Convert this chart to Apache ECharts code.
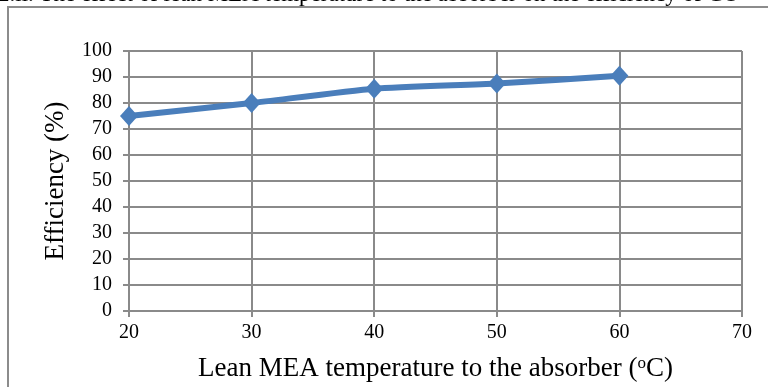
<!DOCTYPE html>
<html>
<head>
<meta charset="utf-8">
<script src="https://cdn.jsdelivr.net/npm/echarts@6/dist/echarts.min.js"></script>
<style>
  html, body { margin: 0; padding: 0; background: #fff; }
  #chart { width: 768px; height: 387px; }
</style>
</head>
<body>
<div id="chart"></div>
<script>
// lean MEA temperature (oC) vs efficiency (%)
var temps = [20, 30, 40, 50, 60];
var efficiency = [75, 80, 85.5, 87.5, 90.5];
var captionText = '2.ii. The effect of lean MEA temperature to the absorber on the efficiency of CO';

var chart = echarts.init(document.getElementById('chart'));
var points = temps.map(function (t, i) { return [t, efficiency[i]]; });

var serif = '"Liberation Serif", "Times New Roman", serif';
var gridColor = '#8a8a8a';

chart.setOption({
  animation: false,
  grid: { left: 129, right: 26, top: 51, bottom: 74, containLabel: false },
  graphic: [
    {
      type: 'rect',
      shape: { x: 8, y: 7, width: 800, height: 420 },
      style: { fill: 'none', stroke: '#8c8c8c', lineWidth: 2 },
      silent: true
    },
    {
      type: 'text',
      left: -2, top: -17,
      style: { text: captionText, font: '23px ' + serif, fill: '#000' },
      silent: true
    }
  ],
  xAxis: {
    type: 'value',
    min: 20, max: 70, interval: 10,
    name: '{a|Lean MEA temperature to the absorber (}{s|o}{a|C)}',
    nameLocation: 'middle',
    nameGap: 44,
    nameTextStyle: {
      rich: {
        a: { fontFamily: serif, fontSize: 27, color: '#000' },
        s: { fontFamily: serif, fontSize: 17, color: '#000', verticalAlign: 'top', padding: [0, 0, 10, 0] }
      }
    },
    axisLine: { show: true, lineStyle: { color: gridColor, width: 2 } },
    axisTick: { show: true, length: 6, lineStyle: { color: gridColor, width: 2 } },
    axisLabel: { fontFamily: serif, fontSize: 20, color: '#000', margin: 12 },
    splitLine: { show: true, lineStyle: { color: gridColor, width: 2 } }
  },
  yAxis: {
    type: 'value',
    min: 0, max: 100, interval: 10,
    name: 'Efficiency (%)',
    nameLocation: 'middle',
    nameGap: 60,
    nameTextStyle: { fontFamily: serif, fontSize: 27, color: '#000' },
    axisLine: { show: true, lineStyle: { color: gridColor, width: 2 } },
    axisTick: { show: true, length: 6, lineStyle: { color: gridColor, width: 2 } },
    axisLabel: { fontFamily: serif, fontSize: 20, color: '#000', margin: 17 },
    splitLine: { show: true, lineStyle: { color: gridColor, width: 2 } }
  },
  series: [{
    type: 'line',
    data: points,
    smooth: 0.2,
    symbol: 'diamond',
    symbolSize: [18, 20],
    lineStyle: { color: '#4a7ebb', width: 6 },
    itemStyle: { color: '#4a7ebb' }
  }]
});
</script>
</body>
</html>
